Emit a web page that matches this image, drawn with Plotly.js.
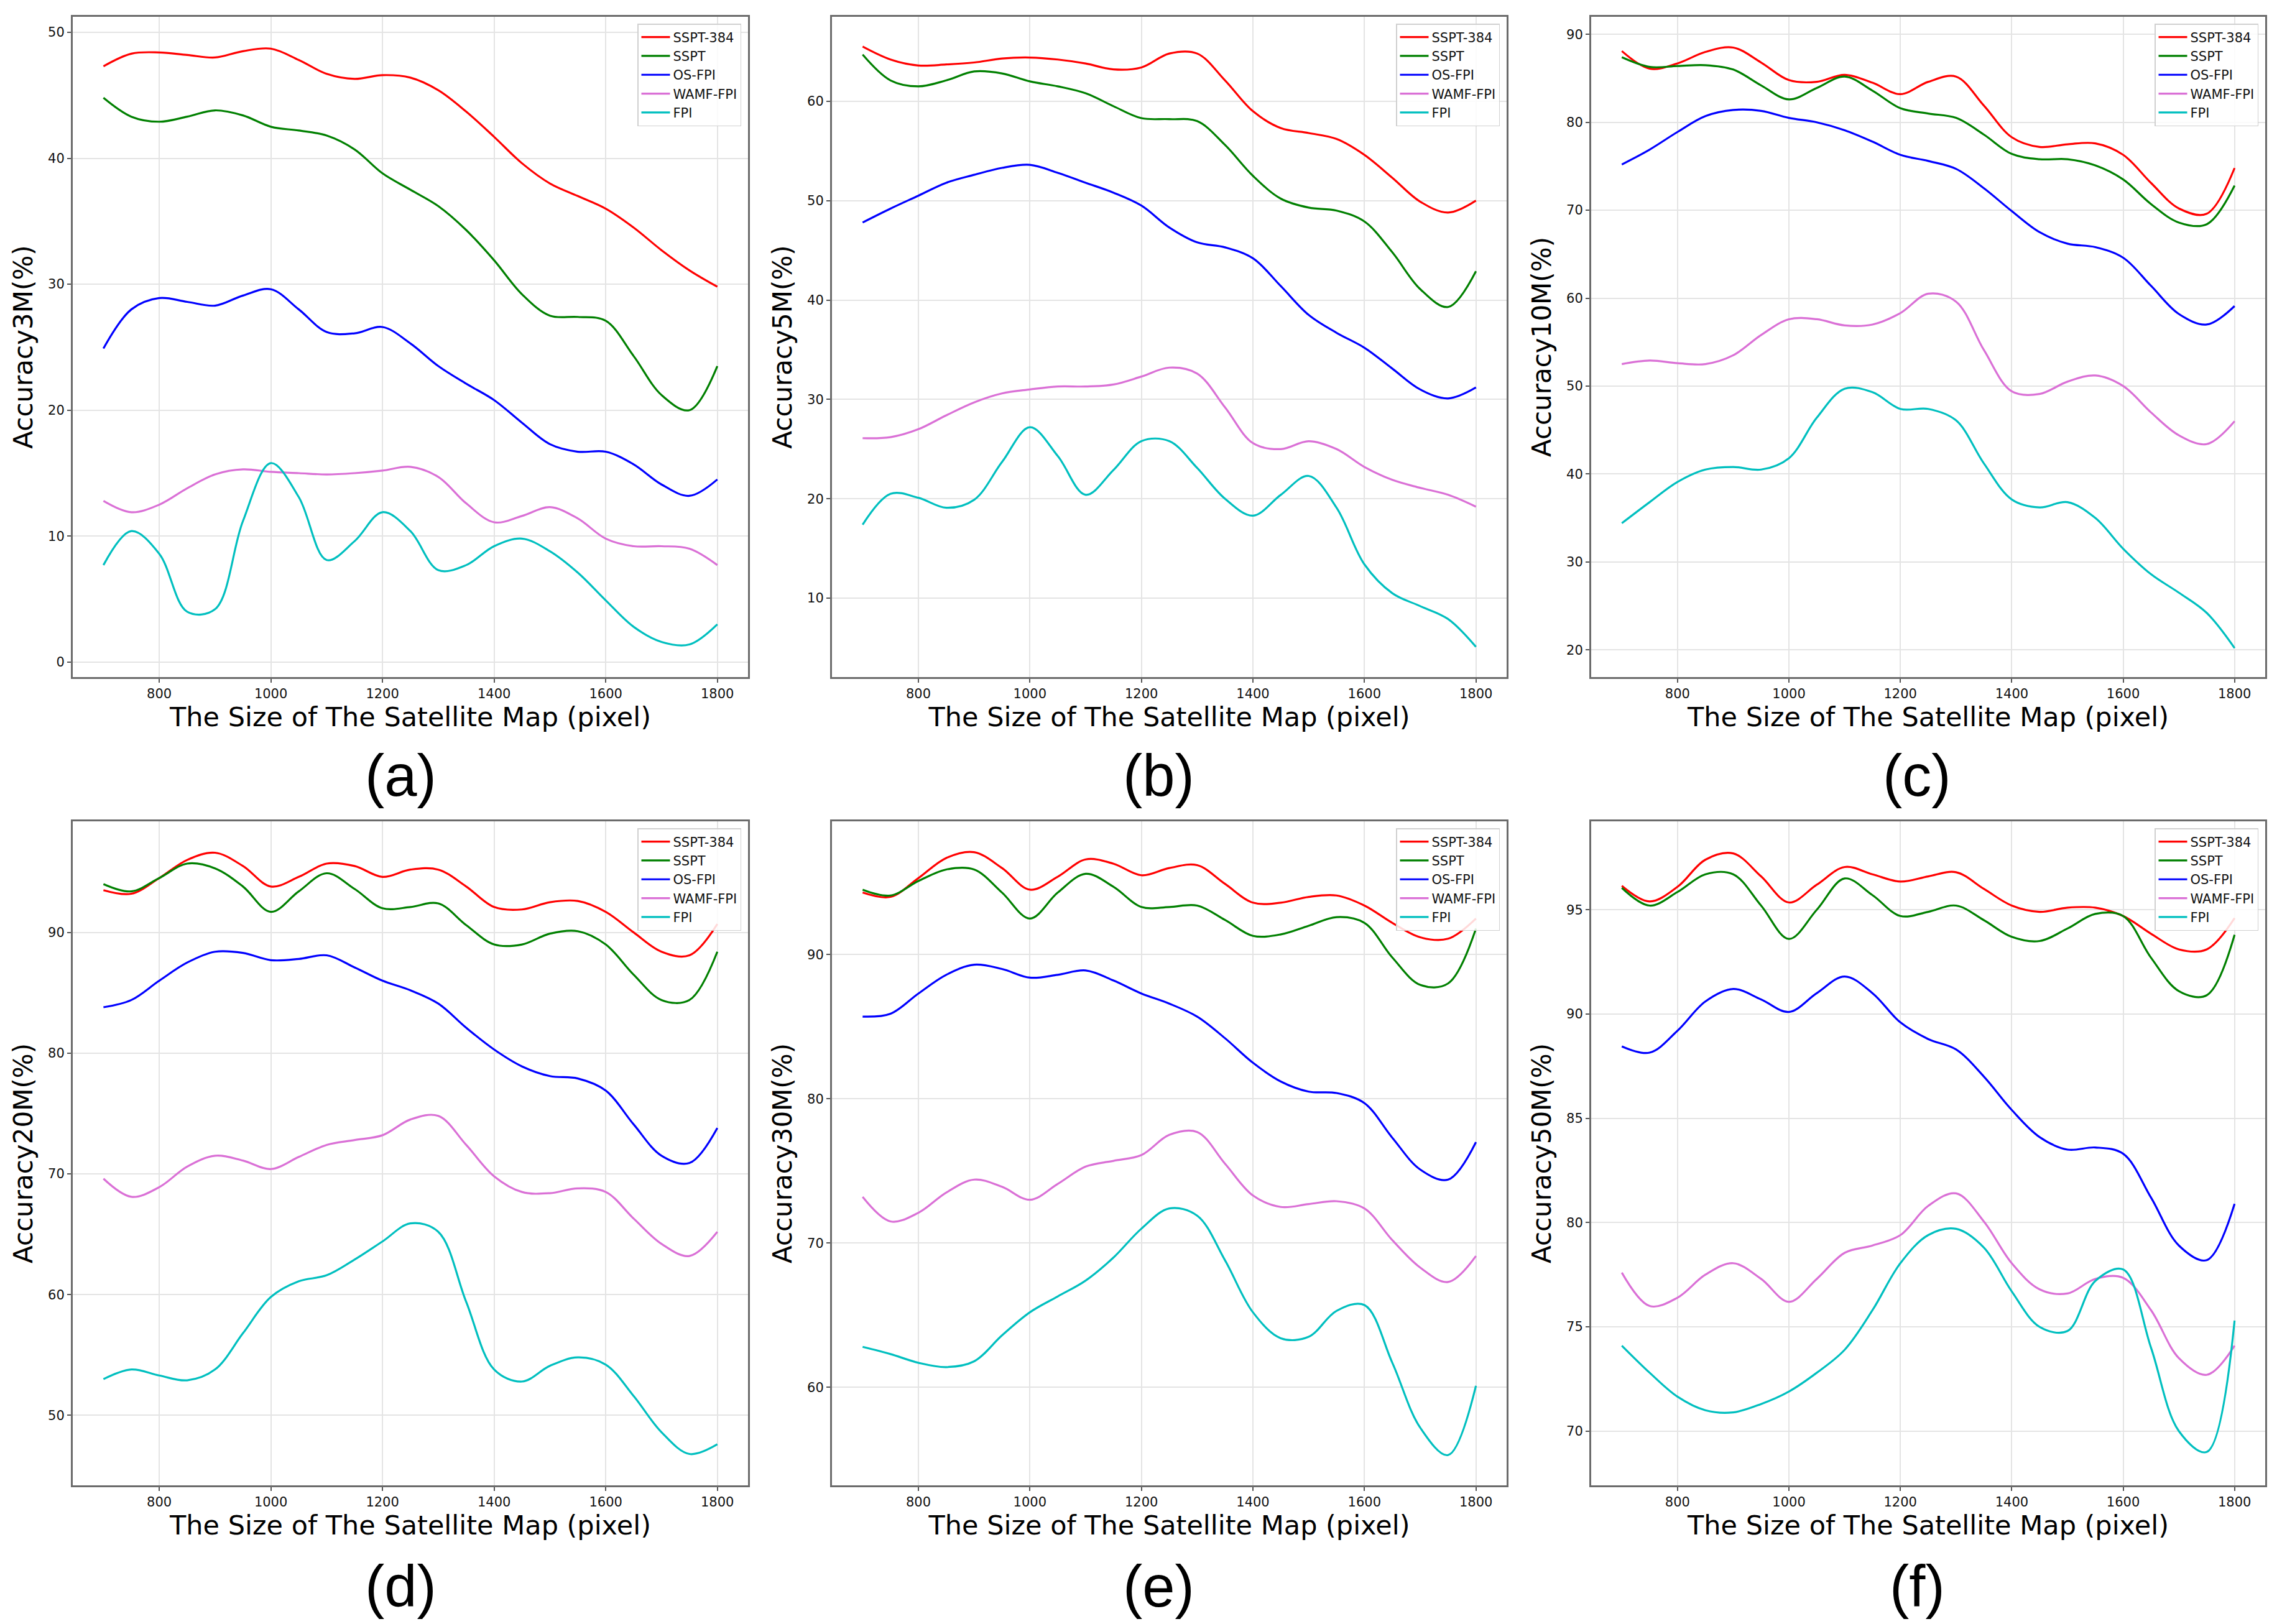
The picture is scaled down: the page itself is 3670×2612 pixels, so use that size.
<!DOCTYPE html>
<html>
<head>
<meta charset="utf-8">
<script src="https://cdn.plot.ly/plotly-3.0.1.min.js"></script>
<style>html,body{margin:0;padding:0;background:#fff;}#chart{width:3670px;height:2612px;}</style>
</head>
<body>
<div id="chart"></div>
<script>
// Map size (pixel)
const xs = [700,750,800,850,900,950,1000,1050,1100,1150,1200,1250,1300,1350,1400,1450,1500,1550,1600,1650,1700,1750,1800];
const seriesNames = ['SSPT-384','SSPT','OS-FPI','WAMF-FPI','FPI'];
const xTicks = [800,1000,1200,1400,1600,1800];

// (a) Accuracy3M
const a_ssptl = [47.3,48.3,48.4,48.2,48.0,48.5,48.7,47.8,46.7,46.3,46.6,46.4,45.4,43.7,41.7,39.6,38.0,37.0,36.0,34.5,32.7,31.1,29.8];
const a_sspt  = [44.8,43.3,42.9,43.3,43.8,43.4,42.5,42.2,41.8,40.7,38.8,37.5,36.2,34.3,31.9,29.2,27.5,27.4,27.1,24.3,21.2,20.0,23.5];
const a_os    = [24.9,28.0,28.9,28.6,28.3,29.1,29.6,28.0,26.2,26.1,26.6,25.3,23.5,22.1,20.8,19.0,17.3,16.7,16.7,15.7,14.1,13.2,14.5];
const a_wamf  = [12.8,11.9,12.5,13.8,14.9,15.3,15.1,15.0,14.9,15.0,15.2,15.5,14.7,12.6,11.1,11.6,12.3,11.4,9.8,9.2,9.2,9.0,7.7];
const a_fpi   = [7.7,10.4,8.6,4.0,4.2,11.2,15.8,13.1,8.1,9.6,11.9,10.4,7.3,7.7,9.2,9.8,8.8,7.1,4.9,2.8,1.6,1.4,3.0];

// (b) Accuracy5M
const b_ssptl = [65.5,64.2,63.6,63.7,63.9,64.3,64.4,64.2,63.8,63.2,63.4,64.8,64.8,62.1,59.0,57.3,56.8,56.2,54.6,52.3,49.9,48.8,50.0];
const b_sspt  = [64.7,62.1,61.5,62.1,63.0,62.8,62.0,61.5,60.8,59.5,58.3,58.2,58.0,55.6,52.5,50.2,49.3,49.0,47.9,44.8,41.1,39.3,42.9];
const b_os    = [47.8,49.2,50.5,51.8,52.6,53.3,53.6,52.8,51.8,50.8,49.5,47.3,45.8,45.3,44.2,41.4,38.5,36.7,35.2,33.1,31.0,30.1,31.2];
const b_wamf  = [26.1,26.2,27.0,28.4,29.7,30.6,31.0,31.3,31.3,31.5,32.3,33.2,32.6,29.2,25.6,25.0,25.8,25.0,23.2,21.9,21.1,20.4,19.2];
const b_fpi   = [17.4,20.5,20.1,19.1,19.9,23.7,27.2,24.3,20.4,22.9,25.8,25.8,23.1,20.0,18.3,20.4,22.3,19.1,13.4,10.5,9.2,7.9,5.1];

// (c) Accuracy10M
const c_ssptl = [88.1,86.1,86.7,88.0,88.5,86.8,84.8,84.6,85.4,84.5,83.2,84.6,85.2,81.9,78.3,77.2,77.5,77.6,76.3,73.1,70.2,69.6,74.8];
const c_sspt  = [87.4,86.3,86.4,86.5,86.0,84.2,82.6,83.9,85.2,83.6,81.6,81.0,80.5,78.6,76.4,75.8,75.8,75.1,73.5,70.7,68.6,68.4,72.8];
const c_os    = [75.2,76.9,78.9,80.7,81.4,81.3,80.5,80.0,79.1,77.8,76.3,75.6,74.7,72.5,69.9,67.5,66.2,65.8,64.6,61.4,58.2,57.0,59.1];
const c_wamf  = [52.5,52.9,52.6,52.5,53.5,55.8,57.6,57.6,56.9,57.0,58.3,60.5,59.6,54.1,49.4,49.1,50.5,51.2,50.0,47.0,44.4,43.4,46.0];
const c_fpi   = [34.4,36.8,39.1,40.5,40.8,40.5,41.8,46.4,49.7,49.3,47.4,47.4,46.1,41.2,37.1,36.2,36.8,35.0,31.5,28.6,26.5,24.2,20.2];

// (d) Accuracy20M
const d_ssptl = [93.5,93.2,94.5,96.0,96.6,95.5,93.8,94.6,95.7,95.5,94.6,95.2,95.2,93.8,92.1,91.9,92.5,92.6,91.7,90.0,88.4,88.1,90.7];
const d_sspt  = [94.0,93.4,94.5,95.7,95.3,93.8,91.7,93.4,94.9,93.6,92.0,92.1,92.4,90.6,89.0,89.0,89.9,90.1,89.0,86.5,84.4,84.4,88.4];
const d_os    = [83.8,84.4,86.0,87.5,88.4,88.3,87.7,87.8,88.1,87.1,86.0,85.2,84.1,82.1,80.3,78.9,78.1,77.9,76.9,74.1,71.5,70.9,73.8];
const d_wamf  = [69.6,68.1,68.9,70.6,71.5,71.1,70.4,71.4,72.4,72.8,73.2,74.5,74.8,72.4,69.8,68.5,68.4,68.8,68.5,66.3,64.2,63.2,65.2];
const d_fpi   = [53.0,53.8,53.3,52.9,53.8,56.8,59.8,61.1,61.6,62.9,64.4,65.9,65.2,59.4,53.8,52.8,54.1,54.8,54.2,51.6,48.6,46.8,47.6];

// (e) Accuracy30M
const e_ssptl = [94.3,94.0,95.3,96.7,97.1,96.0,94.5,95.4,96.6,96.3,95.5,96.0,96.2,94.9,93.6,93.6,94.0,94.1,93.4,92.2,91.2,91.1,92.5];
const e_sspt  = [94.5,94.1,95.1,95.9,95.9,94.3,92.5,94.3,95.6,94.7,93.3,93.3,93.4,92.4,91.3,91.4,92.0,92.6,92.2,89.8,87.9,88.0,91.8];
const e_os    = [85.7,85.9,87.3,88.6,89.3,89.0,88.4,88.6,88.9,88.2,87.3,86.6,85.7,84.2,82.5,81.2,80.5,80.4,79.7,77.3,75.1,74.4,77.0];
const e_wamf  = [73.2,71.5,72.1,73.5,74.4,73.9,73.0,74.1,75.3,75.7,76.1,77.5,77.7,75.5,73.3,72.5,72.7,72.9,72.4,70.2,68.3,67.3,69.1];
const e_fpi   = [62.8,62.3,61.7,61.4,61.8,63.6,65.2,66.3,67.4,69.0,71.0,72.4,71.9,68.8,65.2,63.4,63.5,65.3,65.7,61.7,57.2,55.3,60.1];

// (f) Accuracy50M
const f_ssptl = [96.15,95.4,96.1,97.4,97.7,96.6,95.35,96.2,97.05,96.7,96.35,96.6,96.8,96.0,95.2,94.9,95.1,95.1,94.7,93.85,93.1,93.1,94.6];
const f_sspt  = [96.05,95.2,95.85,96.7,96.7,95.2,93.6,95.0,96.5,95.7,94.7,94.9,95.2,94.5,93.7,93.5,94.1,94.8,94.7,92.7,91.1,90.9,93.8];
const f_os    = [88.45,88.15,89.2,90.6,91.2,90.7,90.1,91.0,91.8,91.0,89.6,88.8,88.3,87.0,85.4,84.1,83.5,83.6,83.3,81.2,78.9,78.2,80.9];
const f_wamf  = [77.6,76.0,76.4,77.5,78.05,77.3,76.2,77.3,78.55,78.9,79.4,80.8,81.4,80.05,78.05,76.8,76.6,77.3,77.35,75.8,73.5,72.7,74.1];
const f_fpi   = [74.1,72.8,71.65,71.0,70.9,71.3,71.9,72.8,73.9,75.8,78.05,79.4,79.7,78.8,76.7,75.0,74.8,77.2,77.75,74.0,70.0,69.0,75.3];

const yTitles = ['Accuracy3M(%)','Accuracy5M(%)','Accuracy10M(%)','Accuracy20M(%)','Accuracy30M(%)','Accuracy50M(%)'];
const panelLabels = ['(a)','(b)','(c)','(d)','(e)','(f)'];
const yRanges = [[-1.19,51.23],[2.06,68.5],[16.9,92.0],[44.2,99.2],[53.2,99.24],[67.4,99.24]];
const yDticks = [10,10,10,10,10,5];
const allSeries = [
  [a_ssptl,a_sspt,a_os,a_wamf,a_fpi],
  [b_ssptl,b_sspt,b_os,b_wamf,b_fpi],
  [c_ssptl,c_sspt,c_os,c_wamf,c_fpi],
  [d_ssptl,d_sspt,d_os,d_wamf,d_fpi],
  [e_ssptl,e_sspt,e_os,e_wamf,e_fpi],
  [f_ssptl,f_sspt,f_os,f_wamf,f_fpi]
];
const colors = ['#ff0000','#008000','#0000ff','#da70d6','#00bfbf'];

// layout geometry (pixels of the 3670x2612 page)
const W = 3670, H = 2612;
const colPx = [[117,1203],[1338,2423],[2559,3643]];
const rowPx = [[27,1089],[1321,2389]];
const labelX = [644,1864,3083];
const labelY = [1247,2551];

const FONT = 'DejaVu Sans, Verdana, sans-serif';
const traces = [];
const layout = {
  width: W, height: H,
  margin: {l:0, r:0, t:0, b:0},
  paper_bgcolor: '#ffffff',
  plot_bgcolor: '#ffffff',
  showlegend: true,
  font: {family: FONT, color: '#000'},
  annotations: []
};

for (let p = 0; p < 6; p++) {
  const col = p % 3, row = Math.floor(p / 3);
  const n = p + 1;
  const xa = n === 1 ? 'xaxis' : 'xaxis' + n;
  const ya = n === 1 ? 'yaxis' : 'yaxis' + n;
  const xr = n === 1 ? 'x' : 'x' + n;
  const yr = n === 1 ? 'y' : 'y' + n;
  const lg = n === 1 ? 'legend' : 'legend' + n;
  const dx = [colPx[col][0] / W, colPx[col][1] / W];
  const dy = [1 - rowPx[row][1] / H, 1 - rowPx[row][0] / H];

  for (let s = 0; s < 5; s++) {
    traces.push({
      type: 'scatter', mode: 'lines',
      x: xs, y: allSeries[p][s],
      name: seriesNames[s],
      xaxis: xr, yaxis: yr, legend: lg,
      line: {color: colors[s], width: 3.2, shape: 'spline', smoothing: 1.0},
      hoverinfo: 'x+y+name'
    });
  }

  const common = {
    showline: true, mirror: true, linecolor: '#6b6b6b', linewidth: 3,
    showgrid: true, gridcolor: '#e4e4e4', gridwidth: 2,
    zeroline: false,
    ticks: 'outside', ticklen: 6, tickwidth: 2, tickcolor: '#555',
    tickfont: {family: FONT, size: 21, color: '#111'}
  };
  layout[xa] = Object.assign({}, common, {
    domain: dx, anchor: yr,
    range: [645, 1855],
    tickmode: 'array', tickvals: xTicks,
    title: {text: 'The Size of The Satellite Map (pixel)', font: {family: FONT, size: 43, color: '#000'}, standoff: 6}
  });
  layout[ya] = Object.assign({}, common, {
    domain: dy, anchor: xr,
    range: yRanges[p],
    tickmode: 'linear', tick0: 0, dtick: yDticks[p],
    title: {text: yTitles[p], font: {family: FONT, size: 42, color: '#000'}, standoff: 12}
  });
  layout[lg] = {
    x: (colPx[col][1] - 11) / W, xanchor: 'right',
    y: 1 - (rowPx[row][0] + 11) / H, yanchor: 'top',
    bgcolor: 'rgba(255,255,255,0.85)',
    bordercolor: '#d0d0d0', borderwidth: 1.5,
    itemwidth: 46,
    font: {family: FONT, size: 21, color: '#111'},
    tracegroupgap: 0
  };
  layout.annotations.push({
    text: panelLabels[p], xref: 'paper', yref: 'paper',
    x: labelX[col] / W, y: 1 - labelY[row] / H,
    xanchor: 'center', yanchor: 'middle', showarrow: false,
    font: {family: 'Liberation Sans, Arial, sans-serif', size: 94, color: '#000'}
  });
}

Plotly.newPlot('chart', traces, layout, {displayModeBar: false, staticPlot: true});
</script>
</body>
</html>
